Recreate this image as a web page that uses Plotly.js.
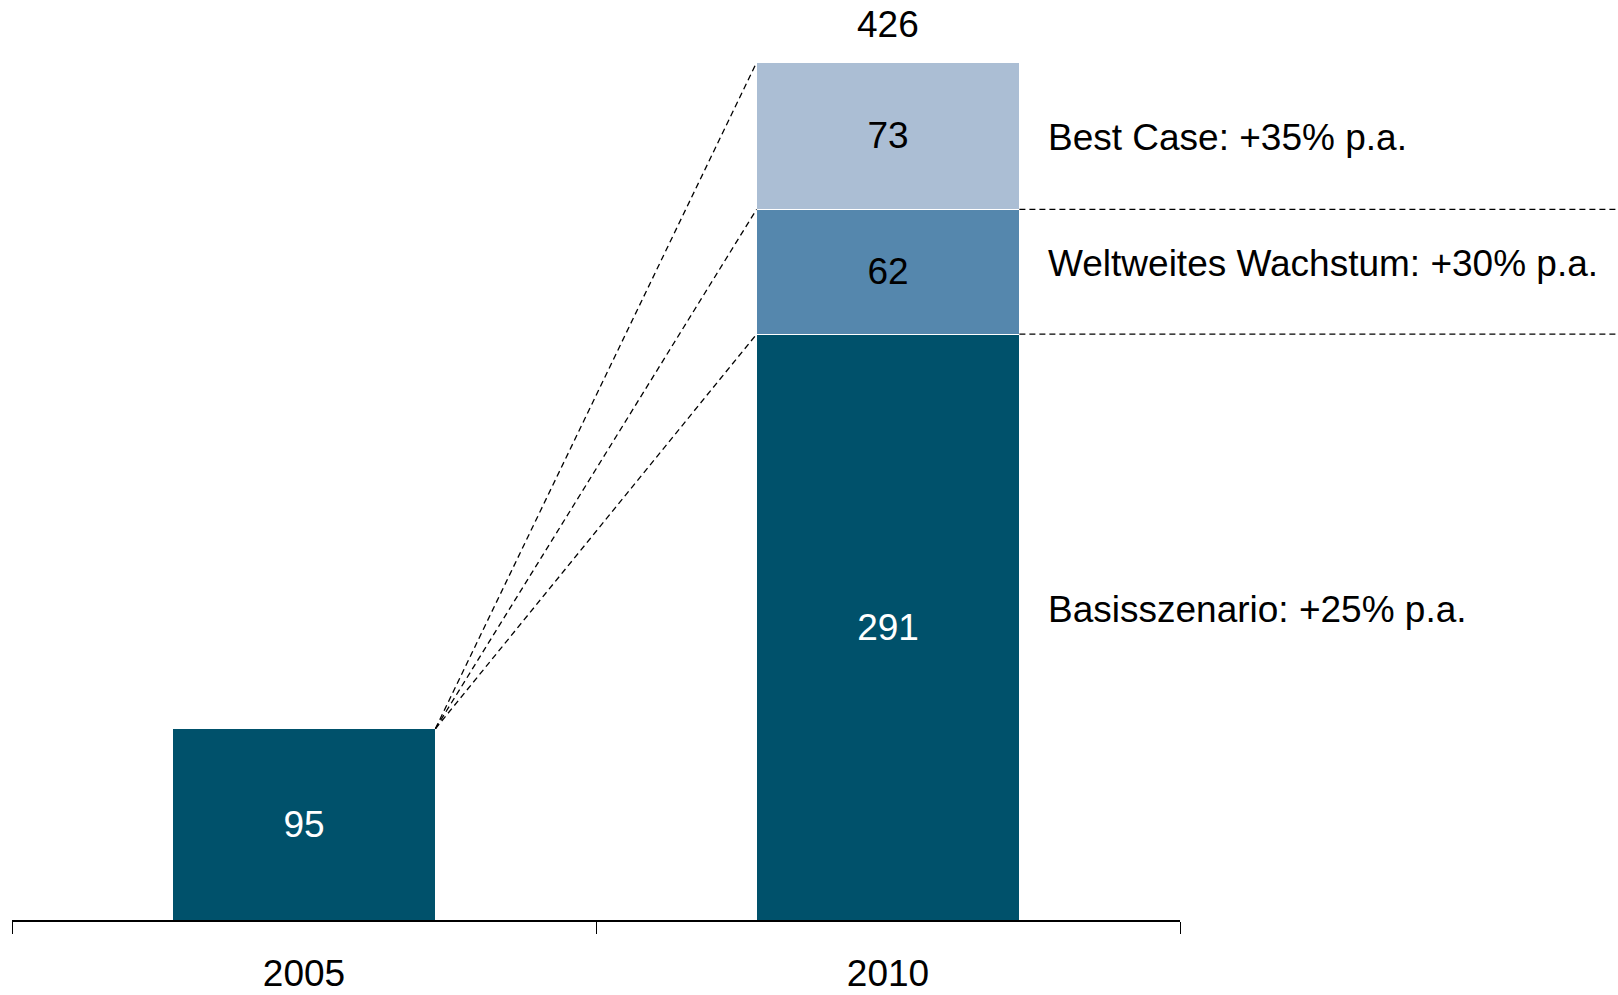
<!DOCTYPE html>
<html>
<head>
<meta charset="utf-8">
<script src="https://cdn.plot.ly/plotly-3.0.1.min.js"></script>
<style>
  html, body { margin: 0; padding: 0; background: #fff; }
  #chart { width: 1618px; height: 995px; }
</style>
</head>
<body>
<div id="chart"></div>
<script>
// Daten
let years = ['2005', '2010'];
let basis = [95, 291];
let weltweit = [null, 62];
let bestCase = [null, 73];
let total2010 = 426;
let scenarioLabels = ['Basisszenario: +25% p.a.', 'Weltweites Wachstum: +30% p.a.', 'Best Case: +35% p.a.'];

let font = 'Liberation Sans, Arial, sans-serif';
let fs = 37;
let barW = 0.45;

let colDark = '#00516B';
let colMid = '#5587AD';
let colLight = '#ABBED4';

function barTrace(vals, color, txtColor) {
    return {
        type: 'bar',
        x: years,
        y: vals,
        width: barW,
        text: vals.map(v => v == null ? '' : String(v)),
        textposition: 'inside',
        insidetextanchor: 'middle',
        constraintext: 'none',
        textangle: 0,
        textfont: {family: font, size: fs, color: txtColor},
        marker: {color: color, line: {color: '#ffffff', width: 1}},
        hoverinfo: 'none'
    };
}

let data = [
    barTrace(basis, colDark, '#ffffff'),
    barTrace(weltweit, colMid, '#000000'),
    barTrace(bestCase, colLight, '#000000')
];

// Ebenen der Segmente im Jahr 2010
let level1 = basis[1];
let level2 = basis[1] + weltweit[1];
let level3 = level2 + bestCase[1];

let shapes = [];
let dashLine = {color: '#000000', width: 1.3, dash: '6px,4px'};
// schräge Linien vom 2005-Balken zu den Segmenten
[level3, level2, level1].forEach(function(lv) {
    shapes.push({
        type: 'line', xref: 'x', yref: 'y',
        x0: 0 + barW / 2, y0: basis[0],
        x1: 1 - barW / 2, y1: lv,
        line: dashLine
    });
});
// waagerechte Linien rechts
[level2, level1].forEach(function(lv) {
    shapes.push({
        type: 'line', xref: 'paper', yref: 'y',
        x0: (1 + barW / 2 + 0.5) / 2, x1: 1.5,
        y0: lv, y1: lv,
        line: {color: '#000000', width: 1.3, dash: '6px,4px'}
    });
});

let mids = [level1 / 2, (level1 + level2) / 2, (level2 + level3) / 2];
let yshifts = [18, 8, -2];
let annotations = scenarioLabels.map(function(t, i) {
    return {
        xref: 'x', yref: 'y', x: 1 + barW / 2, y: mids[i],
        xanchor: 'left', yanchor: 'middle',
        xshift: 27, yshift: yshifts[i],
        text: t, showarrow: false,
        font: {family: font, size: fs, color: '#000000'}
    };
});
annotations.push({
    xref: 'x', yref: 'y', x: 1, y: total2010,
    xanchor: 'center', yanchor: 'bottom', yshift: 15,
    text: String(total2010), showarrow: false,
    font: {family: font, size: fs, color: '#000000'}
});

let layout = {
    width: 1618,
    height: 995,
    barmode: 'stack',
    showlegend: false,
    paper_bgcolor: '#ffffff',
    plot_bgcolor: '#ffffff',
    margin: {l: 12, r: 438, t: 0, b: 75, pad: 0},
    font: {family: font, size: fs, color: '#000000'},
    xaxis: {
        type: 'category',
        range: [-0.5, 1.5],
        showline: true,
        linecolor: '#000000',
        linewidth: 1.5,
        ticks: 'outside',
        tickson: 'boundaries',
        ticklen: 12,
        tickwidth: 1,
        tickcolor: '#000000',
        ticklabelstandoff: 20,
        showgrid: false,
        zeroline: false,
        tickfont: {family: font, size: fs, color: '#000000'},
        fixedrange: true
    },
    yaxis: {
        range: [0, 457],
        visible: false,
        showgrid: false,
        zeroline: false,
        fixedrange: true
    },
    shapes: shapes,
    annotations: annotations
};

Plotly.newPlot('chart', data, layout, {displayModeBar: false, staticPlot: true});
</script>
</body>
</html>
